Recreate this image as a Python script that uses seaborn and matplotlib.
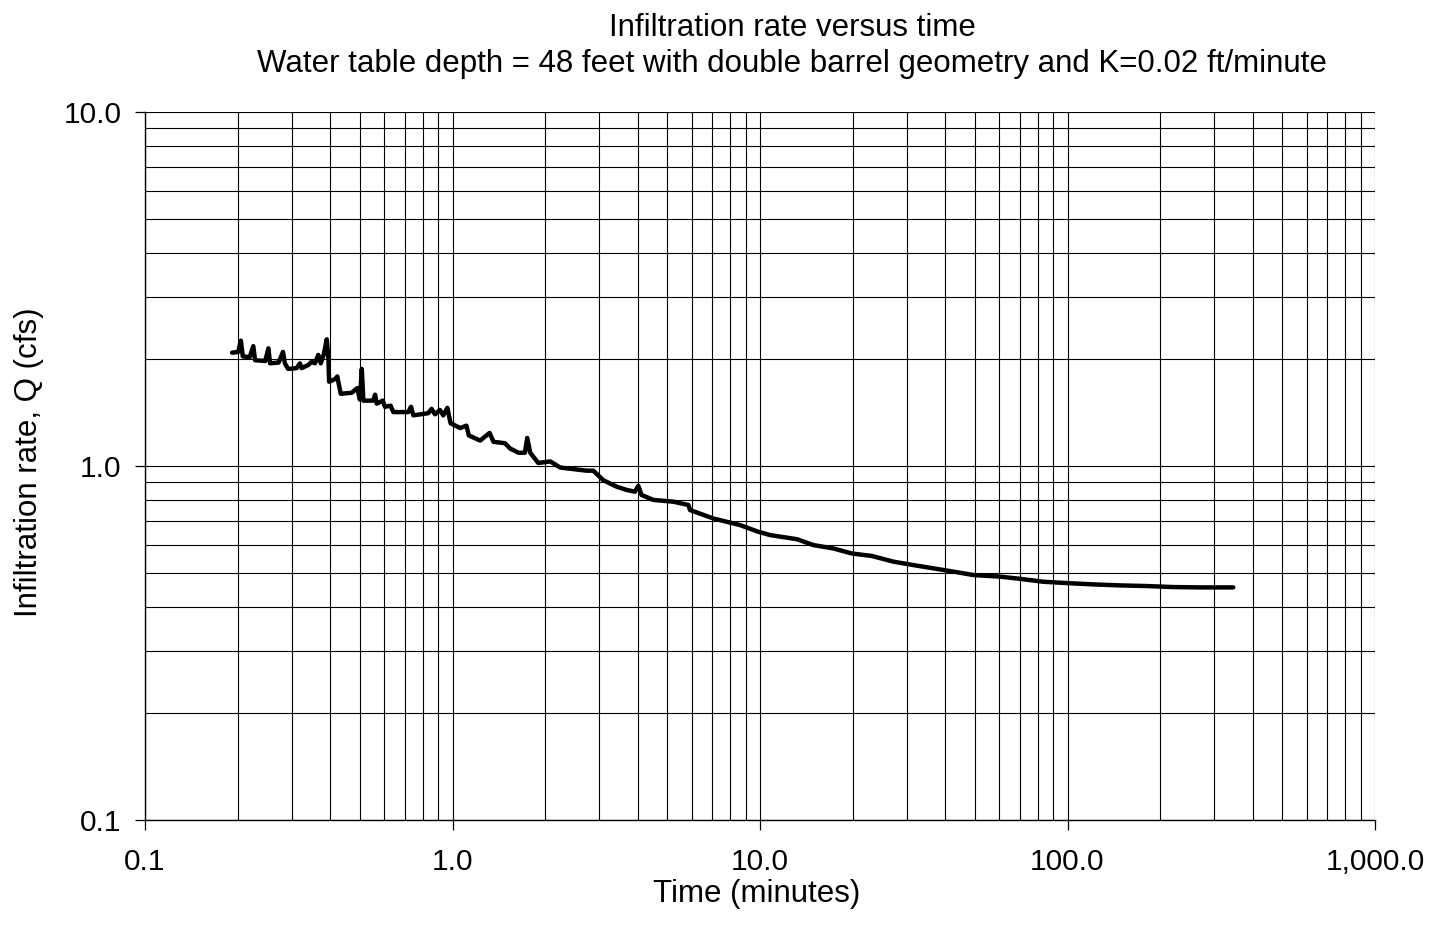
import numpy as np
import pandas as pd
import matplotlib
matplotlib.use("Agg")
import matplotlib.pyplot as plt
from matplotlib.ticker import LogLocator, FuncFormatter, NullFormatter
import seaborn as sns

# Infiltration record: time (minutes) and rate Q (cfs)
time_min = [
    0.192, 0.201, 0.205, 0.208, 0.219, 0.225, 0.228, 0.246, 0.252, 0.255,
    0.272, 0.281, 0.285, 0.292, 0.311, 0.319, 0.323, 0.340, 0.348, 0.357,
    0.366, 0.373, 0.382, 0.390, 0.395, 0.397, 0.415, 0.422, 0.433, 0.470,
    0.490, 0.500, 0.507, 0.513, 0.552, 0.560, 0.567, 0.593, 0.603, 0.629,
    0.642, 0.718, 0.733, 0.746, 0.834, 0.855, 0.877, 0.910, 0.933, 0.962,
    0.986, 1.06, 1.11, 1.13, 1.23, 1.32, 1.36, 1.48, 1.54, 1.64,
    1.72, 1.75, 1.79, 1.90, 2.08, 2.24, 2.47, 2.73, 2.87, 3.09,
    3.42, 3.68, 3.92, 4.02, 4.12, 4.50, 5.22, 5.85, 5.92, 7.05,
    8.61, 9.87, 10.8, 13.2, 14.9, 17.3, 19.9, 23.1, 27.1, 31.5,
    36.6, 42.6, 49.4, 60.3, 70.1, 83.4, 99.3, 121.0, 148.0, 181.0,
    221.0, 270.0, 346.0,
]
rate_cfs = [
    2.09, 2.10, 2.26, 2.04, 2.03, 2.18, 1.99, 1.98, 2.15, 1.95,
    1.96, 2.10, 1.95, 1.88, 1.89, 1.95, 1.89, 1.93, 1.97, 1.95,
    2.06, 1.95, 2.08, 2.28, 1.99, 1.73, 1.76, 1.79, 1.60, 1.61,
    1.66, 1.54, 1.88, 1.53, 1.53, 1.59, 1.50, 1.53, 1.47, 1.48,
    1.42, 1.42, 1.47, 1.39, 1.41, 1.45, 1.40, 1.44, 1.39, 1.46,
    1.32, 1.28, 1.30, 1.22, 1.18, 1.24, 1.17, 1.16, 1.12, 1.09,
    1.09, 1.20, 1.09, 1.02, 1.03, 0.99, 0.98, 0.97, 0.97, 0.912,
    0.874, 0.856, 0.846, 0.879, 0.828, 0.802, 0.793, 0.776, 0.751, 0.711,
    0.681, 0.652, 0.638, 0.621, 0.598, 0.585, 0.566, 0.557, 0.537, 0.525,
    0.514, 0.503, 0.492, 0.487, 0.480, 0.471, 0.467, 0.463, 0.460, 0.458,
    0.455, 0.454, 0.454,
]

title_lines = [
    "Infiltration rate versus time",
    "Water table depth = 48 feet with double barrel geometry and K=0.02 ft/minute",
]
x_label = "Time (minutes)"
y_label = "Infiltration rate, Q (cfs)"

df = pd.DataFrame({"time": time_min, "rate": rate_cfs})

sns.set_theme(style="white")
plt.rcParams["font.family"] = ["Liberation Sans", "DejaVu Sans"]
plt.rcParams["text.color"] = "black"

fig = plt.figure(figsize=(14.32, 9.34), dpi=100)
ax = fig.add_axes([145 / 1432, 1 - 820 / 934, 1230 / 1432, 708 / 934])

sns.lineplot(data=df, x="time", y="rate", ax=ax, color="black",
             linewidth=3.2, sort=False, estimator=None, zorder=3)

ax.set_xscale("log")
ax.set_yscale("log")
ax.set_xlim(0.1, 1000)
ax.set_ylim(0.1, 10)

for axis in (ax.xaxis, ax.yaxis):
    axis.set_major_locator(LogLocator(base=10, numticks=10))
    axis.set_minor_locator(LogLocator(base=10, subs=np.arange(2, 10), numticks=20))
    axis.set_minor_formatter(NullFormatter())
ax.xaxis.set_major_formatter(FuncFormatter(lambda v, p: f"{v:,.1f}"))
ax.yaxis.set_major_formatter(FuncFormatter(lambda v, p: f"{v:.1f}"))

ax.grid(True, which="both", color="black", linewidth=0.8)
ax.set_axisbelow(True)

for side in ("top", "right"):
    ax.spines[side].set_visible(False)
for side in ("left", "bottom"):
    ax.spines[side].set_color("black")
    ax.spines[side].set_linewidth(1.0)

ax.tick_params(axis="both", which="major", direction="out", length=7,
               width=0.9, color="black", labelsize=21.5, labelcolor="black")
ax.tick_params(axis="x", which="major", pad=13, bottom=True)
ax.tick_params(axis="y", which="major", pad=10, left=True)
ax.tick_params(which="minor", length=0)

ax.set_xlabel("")
ax.set_ylabel("")
fig.text(757 / 1432, 1 - 894 / 934, x_label, ha="center", va="center",
         fontsize=22.5, color="black")
fig.text(29 / 1432, 1 - 462 / 934, y_label, ha="center", va="center",
         rotation=90, fontsize=22.5, color="black")
fig.text(792 / 1432, 1 - 46 / 934, "\n".join(title_lines), ha="center",
         va="center", fontsize=22.5, linespacing=1.22, color="black")

fig.savefig("out.png", dpi=100, facecolor="white")
